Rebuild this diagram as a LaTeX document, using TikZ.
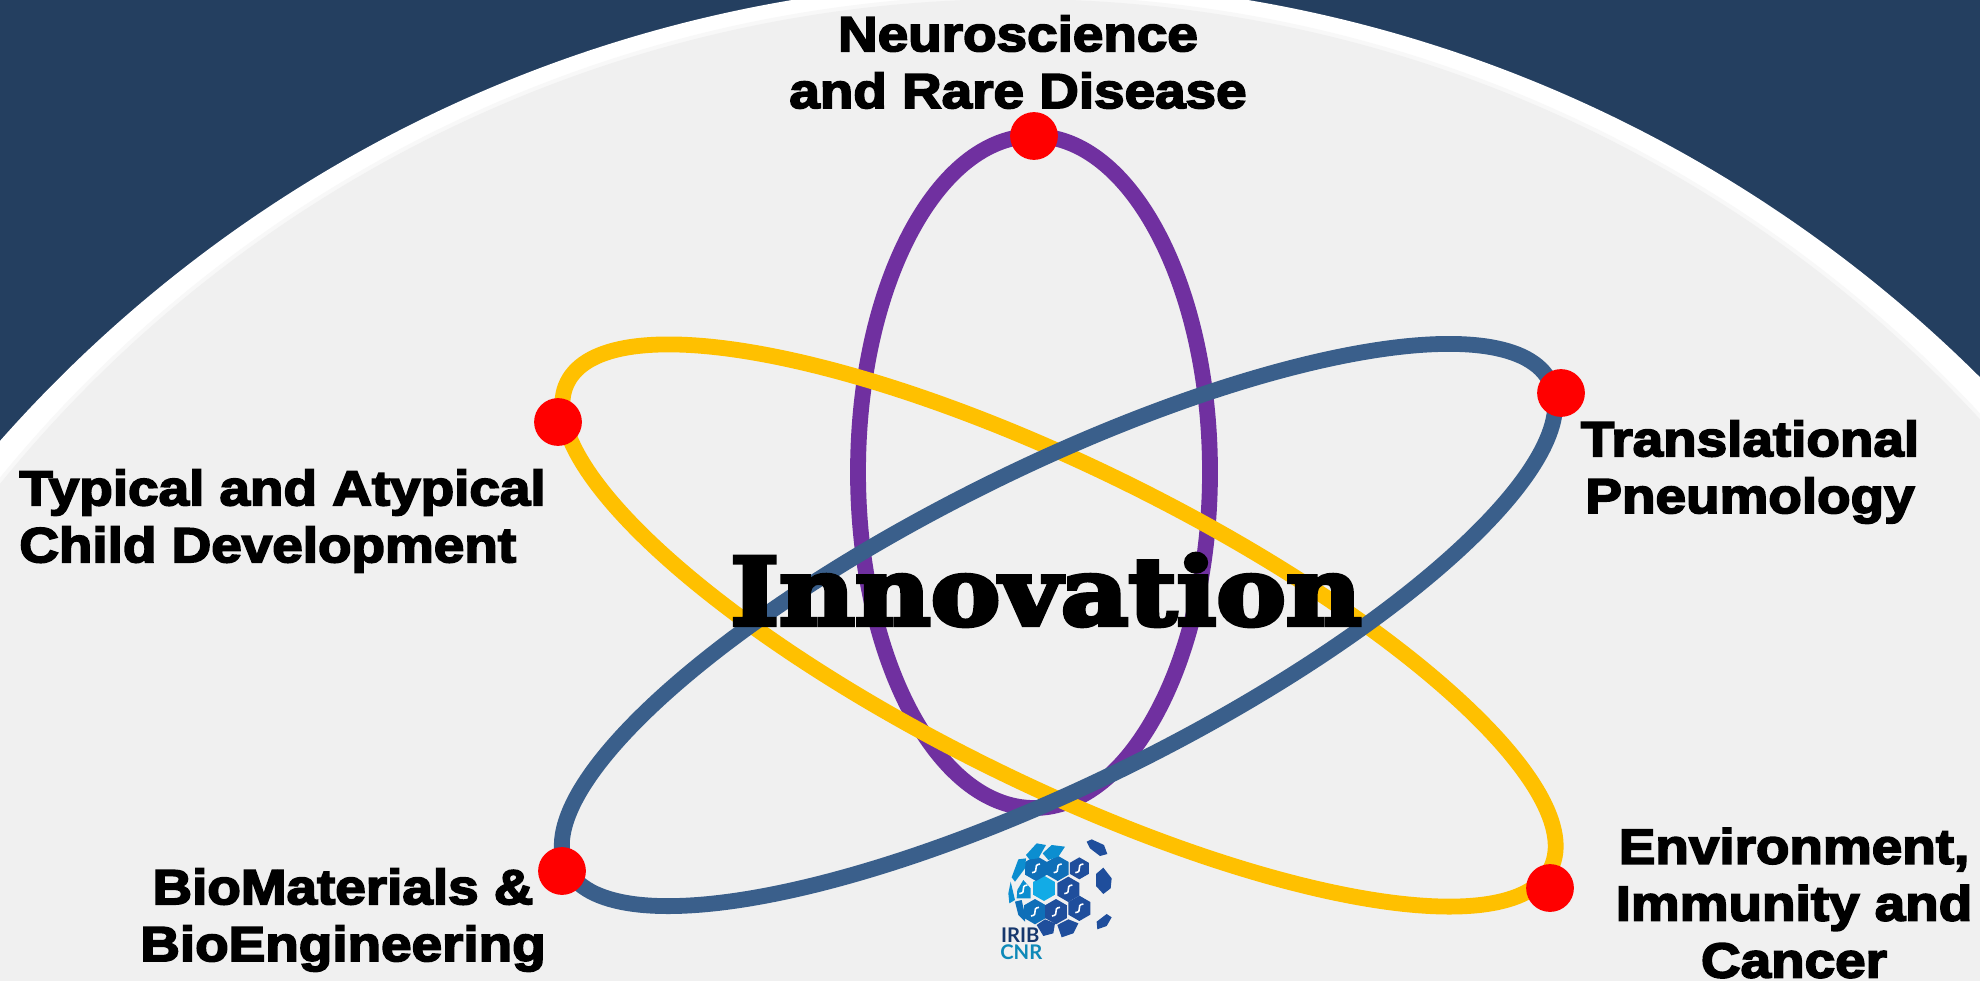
\documentclass[tikz,border=0pt]{standalone}
\usepackage{fontspec}
\usepackage{tikz}
\newfontfamily\labelfont[BoldFeatures={FakeBold=3.6,FakeStretch=1.115}]{Liberation Sans}
\newfontfamily\titlefont[BoldFeatures={FakeBold=5,FakeStretch=1.12}]{DejaVu Serif}
\newfontfamily\logofont{Lato}
\definecolor{navyback}{HTML}{243F60}
\definecolor{paleback}{HTML}{F0F0F0}
\definecolor{orbitpurple}{HTML}{7030A0}
\definecolor{orbityellow}{HTML}{FFC000}
\definecolor{orbitblue}{HTML}{3A5F8B}
\definecolor{hexdeep}{HTML}{1F4E9C}
\definecolor{hexmid}{HTML}{0F6FB8}
\definecolor{hexlight}{HTML}{0C8ED0}
\definecolor{hexcyan}{HTML}{12ABE6}
\tikzset{
  orbit/.style={line width=9pt},
  dot/.style={circle,fill=red,inner sep=0pt,minimum size=27.2pt},
  topic/.style={font={\labelfont\bfseries\fontsize{28pt}{32.4pt}\selectfont},align=center,inner sep=0pt},
  logotext/.style={font={\logofont\bfseries\fontsize{11.5pt}{11.5pt}\selectfont},inner sep=0pt}}

\begin{document}
\begin{tikzpicture}[x=0.02cm,y=0.02cm]
\useasboundingbox (0,0) rectangle (1980,-980);
\clip (0,0) rectangle (1980,-980);
\fill [navyback] (0,0) rectangle (1980,-980);
\fill [white] (1020,-1342) circle (1361);
\fill [paleback!50!white] (1018,-1310) circle (1315);
\fill [paleback] (1018,-1310) circle (1311);
% orbits
\draw [orbit,orbitpurple] (1034,-472) ellipse [x radius=176,y radius=336];
\draw [orbit,orbityellow] (1059,-625.5) ellipse [x radius=548.5,y radius=157.5,rotate=-26.3];
\draw [orbit,orbitblue] (1058.5,-625) ellipse [x radius=548.5,y radius=157.5,rotate=26.3];
% dots
\node [dot] (neuro) at (1034,-136) {};
\node [dot] (child) at (558,-422) {};
\node [dot] (pneumo) at (1561,-393) {};
\node [dot] (bio) at (562,-871) {};
\node [dot] (immune) at (1550,-888) {};
% labels
\node [topic] (neurotext) at (1018,-62) {Neuroscience\\and Rare Disease};
\node [topic,align=left,anchor=west] (childtext) at (19,-521) {Typical and Atypical\\Child Development};
\node [topic] (pneumotext) at (1750,-472) {Translational\\Pneumology};
\node [topic] (biotext) at (343,-920) {BioMaterials \&\\BioEngineering};
\node [topic] (immunetext) at (1794,-903) {Environment,\\Immunity and\\Cancer};
\node [inner sep=0pt,font={\titlefont\bfseries\fontsize{53pt}{53pt}\selectfont}] (title) at (1046,-590) {Innovation};
% logo
\begin{scope}[shift={(960,-800)},scale=0.3333]
\foreach \hx/\hy/\hr/\hc in {252/265/38/hexcyan,325/268/38/hexdeep,293/205/38/hexmid,358/205/33/hexdeep,
  228/205/38/hexmid,225/335/38/hexmid,288/335/38/hexdeep,358/325/38/hexdeep}
  \fill [\hc,shift={(\hx,-\hy)}] (30:\hr) -- (90:\hr) -- (150:\hr) -- (210:\hr) -- (270:\hr) -- (330:\hr) -- cycle;
\fill [hexlight] (198,-165) -- (230,-130) -- (258,-135) -- (235,-175) -- (208,-178) -- cycle;
\fill [hexlight] (248,-160) -- (275,-135) -- (315,-140) -- (295,-170) -- (265,-180) -- cycle;
\fill [hexlight] (155,-232) -- (175,-178) -- (198,-175) -- (195,-205) -- (165,-245) -- cycle;
\fill [hexlight] (152,-245) -- (165,-300) -- (148,-310) -- (145,-280) -- cycle;
\fill [hexlight] (190,-240) -- (212,-265) -- (212,-295) -- (170,-295) -- (172,-270) -- cycle;
\fill [hexmid] (165,-305) -- (185,-300) -- (195,-345) -- (195,-365) -- (175,-345) -- cycle;
\fill [hexdeep] (230,-375) -- (255,-358) -- (285,-370) -- (280,-400) -- (250,-408) -- cycle;
\fill [hexdeep] (292,-375) -- (325,-358) -- (355,-370) -- (340,-400) -- (305,-412) -- cycle;
\fill [hexdeep] (380,-125) -- (395,-118) -- (432,-135) -- (442,-162) -- (420,-168) -- (390,-145) -- cycle;
\fill [hexdeep] (430,-203) -- (455,-235) -- (452,-265) -- (430,-282) -- (408,-258) -- (408,-222) -- cycle;
\fill [hexdeep] (410,-365) -- (440,-342) -- (455,-352) -- (440,-378) -- (412,-388) -- cycle;
% icons
\foreach \ix/\iy in {228/205,293/205,358/205,325/268,190/268,225/335,288/335,358/325}
  \draw [white,line width=0.9pt] (\ix-12,-\iy-13) .. controls (\ix+13,-\iy-10) and (\ix-13,-\iy+10) .. (\ix+12,-\iy+13);
\node [logotext,text=hexdeep!70!black,anchor=west] (iribtext) at (122,-407) {IRIB};
\node [logotext,text=hexcyan!80!black,anchor=west] (cnrtext) at (120,-458) {CNR};
\end{scope}
\end{tikzpicture}
\end{document}
